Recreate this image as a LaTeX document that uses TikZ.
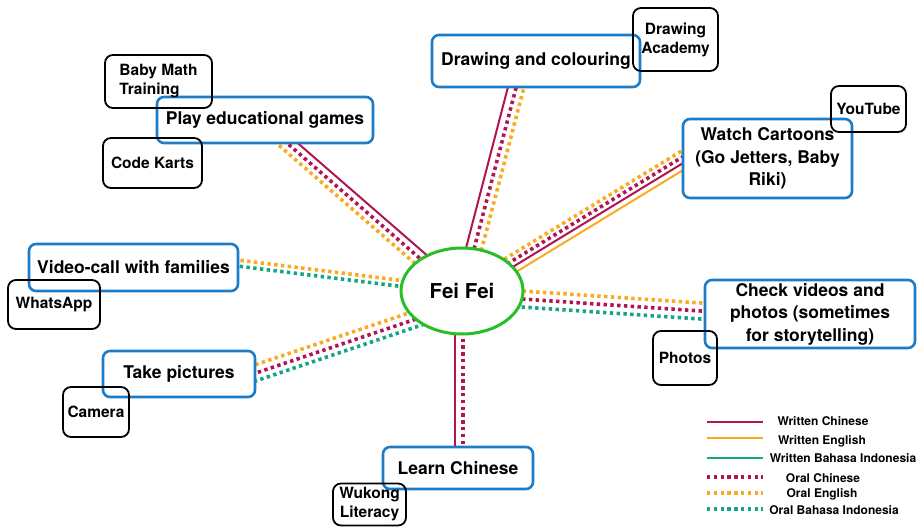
\documentclass[tikz,border=0pt]{standalone}
\usepackage{fontspec}
\setmainfont{TeX Gyre Heros}
\usetikzlibrary{calc,shapes.geometric}
\pgfdeclarelayer{bg}
\pgfsetlayers{bg,main}
\definecolor{cblue}{RGB}{28,124,200}
\definecolor{cgreen}{RGB}{40,190,40}
\definecolor{ccrim}{RGB}{178,20,82}
\definecolor{corange}{RGB}{250,170,30}
\definecolor{cteal}{RGB}{20,165,135}
\newcommand\myspoke[4]{\draw[#4] ($(#1)!#3!90:(#2)$) -- ($(#2)!#3!-90:(#1)$);}
\tikzset{
  mainbox/.style={draw=cblue, line width=2.6pt, rounded corners=7pt, fill=white, inner sep=0pt, align=center, font=\bfseries\fontsize{17.5}{22.5}\selectfont},
  toolbox/.style={draw=black, line width=1.8pt, rounded corners=8pt, inner sep=0pt, align=center, font=\bfseries\fontsize{15.5}{19}\selectfont},
  centre/.style={ellipse, draw=cgreen, line width=3pt, fill=white, inner sep=0pt, font=\bfseries\fontsize{20.5}{24}\selectfont},
  wline/.style={line width=2pt},
  oline/.style={line width=3.6pt, dash pattern=on 3.4pt off 3.4pt},
  wzh/.style={wline, draw=ccrim},
  wen/.style={wline, draw=corange},
  wid/.style={wline, draw=cteal},
  ozh/.style={oline, draw=ccrim},
  oen/.style={oline, draw=corange},
  oid/.style={oline, draw=cteal},
  legtext/.style={inner sep=0pt, font=\bfseries\fontsize{12}{14}\selectfont}
}
\begin{document}
\begin{tikzpicture}[x=1pt, y=-1pt]
\useasboundingbox (0,0) rectangle (920,527);

% centre
\node[centre, minimum width=122pt, minimum height=86pt] (fei) at (462,291) {Fei Fei};

% activities
\node[mainbox, minimum width=208pt, minimum height=52pt] (dc) at (536,61) {Drawing and colouring};
\node[mainbox, minimum width=216pt, minimum height=46pt] (pe) at (265,120) {Play educational games};
\node[mainbox, minimum width=169pt, minimum height=79pt] (wc) at (767.5,158.5) {Watch Cartoons\\(Go Jetters, Baby\\Riki)};
\node[mainbox, minimum width=209pt, minimum height=47pt] (vc) at (133.5,267.5) {Video-call with families};
\node[mainbox, minimum width=152pt, minimum height=46pt] (tp) at (179,374) {Take pictures};
\node[mainbox, minimum width=210pt, minimum height=68pt] (cv) at (810,314) {Check videos and\\photos (sometimes\\for storytelling)};
\node[mainbox, minimum width=150pt, minimum height=42pt] (lc) at (458,468) {Learn Chinese};

% tools
\node[toolbox, minimum width=85pt, minimum height=63pt] (da) at (675.5,39.5) {Drawing\\Academy};
\node[toolbox, minimum width=107pt, minimum height=53pt, align=left] (bm) at (158.5,81.5) {Baby Math\\Training};
\node[toolbox, minimum width=99pt, minimum height=50pt] (ck) at (152.5,163) {Code Karts};
\node[toolbox, minimum width=75pt, minimum height=46pt] (yt) at (868.5,109) {YouTube};
\node[toolbox, minimum width=92pt, minimum height=49pt] (wa) at (54,304.5) {WhatsApp};
\node[toolbox, minimum width=66pt, minimum height=50pt] (cam) at (96,412) {Camera};
\node[toolbox, minimum width=64pt, minimum height=54pt] (ph) at (685,358) {Photos};
\node[toolbox, minimum width=73pt, minimum height=42pt] (wk) at (369.5,504.5) {Wukong\\Literacy};

% connector end points
\coordinate (peP) at (pe.center);
\coordinate (peQ) at (fei.center);
\coordinate (dcP) at ([xshift=-14pt]dc.center);
\coordinate (dcQ) at (fei.center);
\coordinate (wcP) at ([xshift=4pt]wc.west);
\coordinate (wcQ) at ([yshift=-4pt]fei.center);
\coordinate (vcP) at ([xshift=-6pt,yshift=5pt]vc.east);
\coordinate (vcQ) at (fei.center);
\coordinate (tpP) at ([xshift=-5pt]tp.east);
\coordinate (tpQ) at ([yshift=-12pt]fei.center);
\coordinate (cvP) at ([xshift=5pt,yshift=2.5pt]cv.west);
\coordinate (cvQ) at ([yshift=-4pt]fei.center);
\coordinate (lcP) at ([xshift=1pt,yshift=-5pt]lc.north);
\coordinate (lcQ) at ([xshift=-3pt]fei.center);

\begin{pgfonlayer}{bg}
  % Play educational games
  \myspoke{peP}{peQ}{4pt}{wzh}
  \myspoke{peP}{peQ}{-3pt}{ozh}
  \myspoke{peP}{peQ}{-10pt}{oen}
  % Drawing and colouring
  \myspoke{dcP}{dcQ}{-7pt}{wzh}
  \myspoke{dcP}{dcQ}{1pt}{ozh}
  \myspoke{dcP}{dcQ}{8.5pt}{oen}
  % Watch Cartoons
  \myspoke{wcP}{wcQ}{-8.5pt}{oen}
  \myspoke{wcP}{wcQ}{-3pt}{ozh}
  \myspoke{wcP}{wcQ}{2.5pt}{wzh}
  \myspoke{wcP}{wcQ}{8.5pt}{wen}
  % Video-call
  \myspoke{vcP}{vcQ}{3pt}{oen}
  \myspoke{vcP}{vcQ}{-3pt}{oid}
  % Take pictures
  \myspoke{tpP}{tpQ}{7.5pt}{oen}
  \myspoke{tpP}{tpQ}{-0.5pt}{ozh}
  \myspoke{tpP}{tpQ}{-8pt}{oid}
  % Check videos
  \myspoke{cvP}{cvQ}{-8pt}{oen}
  \myspoke{cvP}{cvQ}{0pt}{ozh}
  \myspoke{cvP}{cvQ}{8pt}{oid}
  % Learn Chinese
  \myspoke{lcP}{lcQ}{4pt}{wzh}
  \myspoke{lcP}{lcQ}{-4pt}{ozh}
\end{pgfonlayer}

% legend
\coordinate (l1a) at (707,422); \coordinate (l1b) at (763,422);
\coordinate (l2a) at (707,438); \coordinate (l2b) at (763,438);
\coordinate (l3a) at (707,458); \coordinate (l3b) at (763,458);
\coordinate (l4a) at (707,477); \coordinate (l4b) at (763,477);
\coordinate (l5a) at (707,493); \coordinate (l5b) at (763,493);
\coordinate (l6a) at (707,509); \coordinate (l6b) at (763,509);
\draw[wzh] (l1a) -- (l1b);
\draw[wen] (l2a) -- (l2b);
\draw[wid] (l3a) -- (l3b);
\draw[ozh] (l4a) -- (l4b);
\draw[oen] (l5a) -- (l5b);
\draw[oid] (l6a) -- (l6b);
\node[legtext] (t1) at (823,421) {Written Chinese};
\node[legtext] (t2) at (822,441) {Written English};
\node[legtext] (t3) at (843,458) {Written Bahasa Indonesia};
\node[legtext] (t4) at (823,478) {Oral Chinese};
\node[legtext] (t5) at (822,494) {Oral English};
\node[legtext] (t6) at (834,510) {Oral Bahasa Indonesia};
\end{tikzpicture}
\end{document}
